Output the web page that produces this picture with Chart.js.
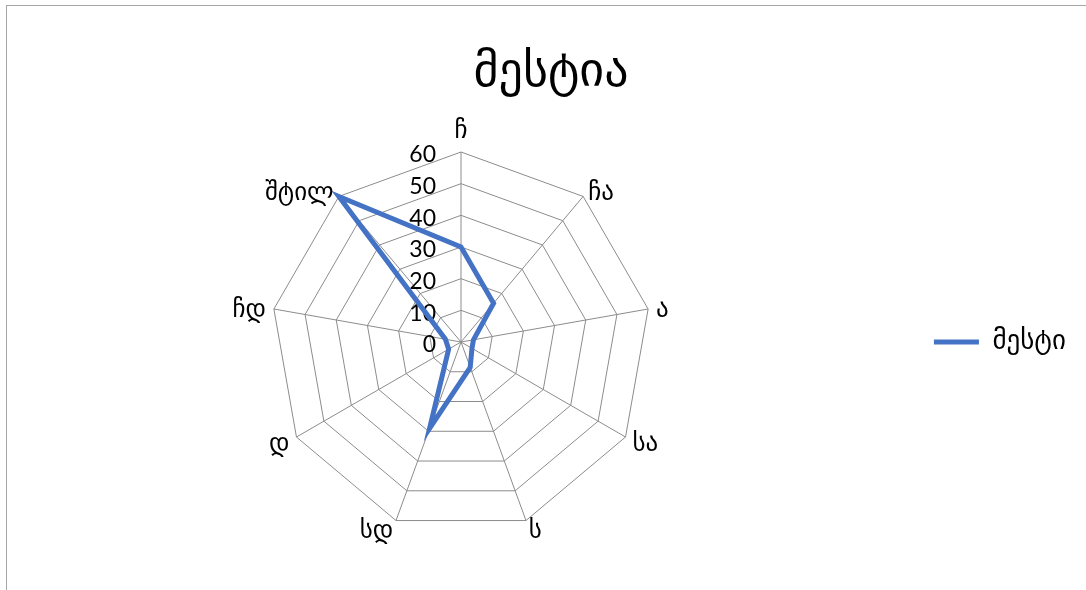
<!DOCTYPE html>
<html>
<head>
<meta charset="utf-8">
<script src="https://cdn.jsdelivr.net/npm/chart.js@4"></script>
<style>
  html, body { margin: 0; padding: 0; background: #fff; overflow: hidden; }
  #wrap { position: relative; width: 1086px; height: 590px; }
  #frame { position: absolute; left: 6px; top: 5px; width: 1100px; height: 600px; border: 1px solid #a6a6a6; pointer-events: none; }
  #title { position: absolute; left: 0; top: 40px; width: 1102px; text-align: center;
           font: 48px/58px 'DejaVu Sans', 'Noto Sans', sans-serif; color: #000; }
  canvas { position: absolute; left: 0; top: 0; }
</style>
</head>
<body>
<div id="wrap">
  <canvas id="mestiaRadar" width="1086" height="590"></canvas>
  <div id="title">მესტია</div>
  <div id="frame"></div>
</div>
<script>
const categories = ["ჩ", "ჩა", "ა", "სა", "ს", "სდ", "დ", "ჩდ", "შტილ"];
const mestiaValues = [30, 16, 4, 4, 8.5, 29, 4.5, 5, 60];
const tickValues = [0, 10, 20, 30, 40, 50, 60];

const georgianFont = "'DejaVu Sans', 'Noto Sans', sans-serif";
const blue = "#4472C4";
const gridGray = "#8c8c8c";

// tick numbers sit left of the vertical axis, like the excel chart
const tickLabels = {
  id: "tickLabels",
  beforeDatasetsDraw(chart) {
    const scale = chart.scales.r;
    const c = chart.ctx;
    c.save();
    c.font = "23px Lato, 'Liberation Sans', sans-serif";
    c.fillStyle = "#000";
    c.textAlign = "right";
    c.textBaseline = "middle";
    tickValues.forEach(function (v) {
      const d = scale.getDistanceFromCenterForValue(v);
      c.fillText(String(v), scale.xCenter - 25, scale.yCenter - d + 3);
    });
    c.restore();
  },
};

// category labels placed beside each spoke end (excel style)
const spokeLabels = {
  id: "spokeLabels",
  afterDraw(chart) {
    const scale = chart.scales.r;
    const c = chart.ctx;
    const n = chart.data.labels.length;
    c.save();
    c.font = "25px " + georgianFont;
    c.fillStyle = "#000";
    chart.data.labels.forEach(function (lbl, i) {
      const a = (i / n) * Math.PI * 2;
      const s = Math.sin(a);
      const co = Math.cos(a);
      const pt = scale.getPointPosition(i, scale.drawingArea + 8);
      let y = pt.y + 3;
      if (s > 0.05) c.textAlign = "left";
      else if (s < -0.05) c.textAlign = "right";
      else c.textAlign = "center";
      if (c.textAlign === "center") {
        c.textBaseline = co > 0 ? "bottom" : "top";
        y = pt.y;
      } else {
        c.textBaseline = "middle";
      }
      c.fillText(lbl, pt.x, y);
    });
    c.restore();
  },
};

const ctx = document.getElementById("mestiaRadar").getContext("2d");
const mestiaRadar = new Chart(ctx, {
  type: "radar",
  data: {
    labels: categories,
    datasets: [
      {
        label: "მესტი",
        data: mestiaValues,
        borderColor: blue,
        backgroundColor: blue,
        borderWidth: 5,
        fill: false,
        pointRadius: 0,
        pointHoverRadius: 0,
        tension: 0,
      },
    ],
  },
  plugins: [tickLabels, spokeLabels],
  options: {
    responsive: false,
    animation: false,
    devicePixelRatio: 1,
    layout: { padding: { top: 152, bottom: 58, right: 10 } },
    plugins: {
      title: { display: false },
      legend: {
        position: "right",
        labels: {
          color: "#000",
          font: { family: georgianFont, size: 27 },
          boxWidth: 45,
          boxHeight: 5,
          padding: 10,
          generateLabels(chart) {
            return Chart.defaults.plugins.legend.labels.generateLabels(chart).map(function (item) {
              item.lineWidth = 0;
              item.fillStyle = blue;
              return item;
            });
          },
        },
      },
      tooltip: { enabled: false },
    },
    scales: {
      r: {
        min: 0,
        max: 60,
        ticks: { stepSize: 10, display: false },
        grid: { color: gridGray, lineWidth: 1 },
        angleLines: { color: gridGray, lineWidth: 1 },
        pointLabels: { display: false },
      },
    },
  },
});
</script>
</body>
</html>
